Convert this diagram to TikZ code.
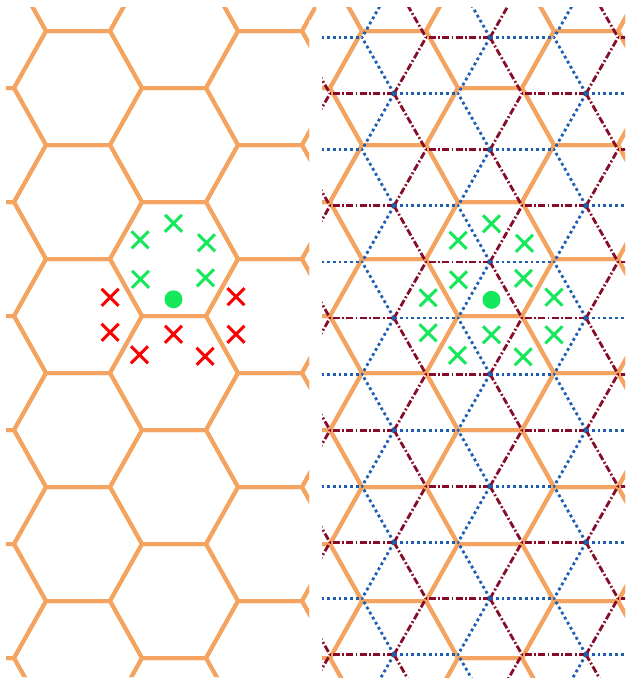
\documentclass[tikz,border=0pt]{standalone}
\begin{document}
\definecolor{hexc}{RGB}{244,164,96}
\definecolor{gmark}{RGB}{22,232,92}
\definecolor{rmark}{RGB}{250,0,0}
\definecolor{bdot}{RGB}{30,95,175}
\definecolor{rdd}{RGB}{135,12,42}
\tikzset{
  hexline/.style={draw=hexc,line width=4pt,line join=miter},
  bluelat/.style={draw=bdot,line width=2.8pt,dash pattern=on 2.8pt off 3pt},
  redlat/.style={draw=rdd,line width=2.8pt,dash pattern=on 7pt off 2.4pt on 1.8pt off 2.4pt},
  gx/.style={draw=gmark,line width=3pt},
  rx/.style={draw=rmark,line width=3pt},
}
\newcommand\hexgrid[1]{%
  \foreach \n in {0,...,5}{%
    \foreach \j in {-1,...,6}{%
      \pgfmathsetmacro\cx{-18+96*\n+#1}%
      \pgfmathsetmacro\cy{(mod(\n,2)==1 ? 88 : 31)+114*\j}%
      \draw[hexline] (\cx-64,\cy) -- (\cx-32,\cy-57) -- (\cx+32,\cy-57) -- (\cx+64,\cy) -- (\cx+32,\cy+57) -- (\cx-32,\cy+57) -- cycle;
    }}}
\newcommand\lattice[1]{%
  \foreach \n in {0,...,5}{%
    \foreach \j in {-1,...,6}{%
      \pgfmathsetmacro\cx{-18+96*\n+#1}%
      \pgfmathsetmacro\kk{(mod(\n,2)==1 ? 1 : 0)+2*\j}%
      \pgfmathsetmacro\cy{37.5+56.1*\kk}%
      \draw[redlat] (\cx,\cy) -- (\cx-64,\cy);
      \draw[redlat] (\cx,\cy) -- (\cx+32,\cy-56.1);
      \draw[redlat] (\cx,\cy) -- (\cx+32,\cy+56.1);
      \draw[bluelat] (\cx,\cy) -- (\cx+64,\cy);
      \draw[bluelat] (\cx,\cy) -- (\cx-32,\cy-56.1);
      \draw[bluelat] (\cx,\cy) -- (\cx-32,\cy+56.1);
    }}}
\newcommand\xmk[3]{\draw[#1] (#2-8.5,#3-8.5) -- (#2+8.5,#3+8.5) (#2-8.5,#3+8.5) -- (#2+8.5,#3-8.5);}
\begin{tikzpicture}[x=1pt,y=-1pt]
\useasboundingbox[fill=white] (0,0) rectangle (627,683);
% left panel
\begin{scope}
  \clip (6,7) -- (316,7) -- (316,20) -- (309,20) -- (309,677) -- (6,677) -- cycle;
  \hexgrid{0}
\end{scope}
% right panel
\begin{scope}
  \clip (322,7) rectangle (625,677);
  \hexgrid{316}
  \lattice{316}
\end{scope}
% left marks
\begin{scope}[shift={(173.5,299.3)}]
  \foreach \a/\b in {0/-76, -33.4/-59.5, 33/-56.5, -33/-20, 32/-21.5}{\xmk{gx}{\a}{\b}}
  \foreach \a/\b in {-63.4/-2, -63.4/33, 0/35, -34/55.5, 31.6/57, 62.5/-2.6, 62.5/35}{\xmk{rx}{\a}{\b}}
  \fill[gmark] (0,0) circle (9pt);
\end{scope}
% right marks
\begin{scope}[shift={(491.5,299.8)}]
  \foreach \a/\b in {0/-76, -33.4/-59.5, 33/-56.5, -33/-20, 32/-21.5, -63.4/-2, -63.4/33, 0/35, -34/55.5, 31.6/57, 62.5/-2.6, 62.5/35}{\xmk{gx}{\a}{\b}}
  \fill[gmark] (0,0) circle (9pt);
\end{scope}
\end{tikzpicture}
\end{document}
